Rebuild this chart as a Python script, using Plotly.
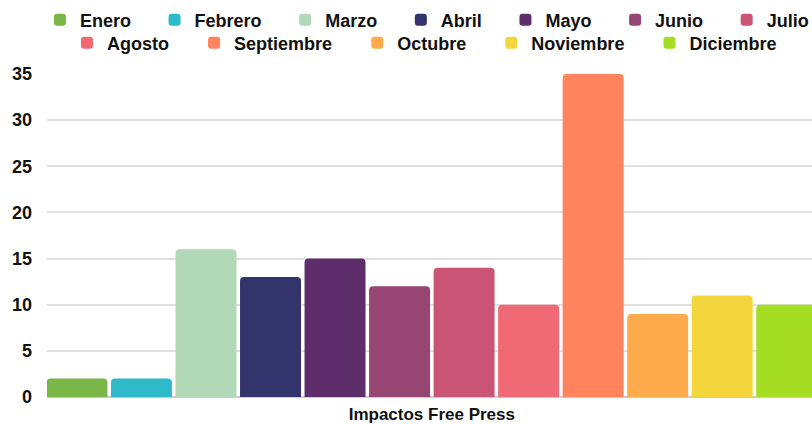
import plotly.graph_objects as go

category = ["Impactos Free Press"]
months = ["Enero", "Febrero", "Marzo", "Abril", "Mayo", "Junio",
          "Julio", "Agosto", "Septiembre", "Octubre", "Noviembre", "Diciembre"]
values = [2, 2, 16, 13, 15, 12, 14, 10, 35, 9, 11, 10]
colors = ["#7ab648", "#2fbaca", "#b1d8b7", "#32346b", "#5e2e6b", "#974673",
          "#c95476", "#ef6a74", "#ff835c", "#ffab4c", "#f2d63b", "#a4dd21"]
y_ticks = [0, 5, 10, 15, 20, 25, 30, 35]

PAD1 = "\u00a0" * 3 + "\u2009"
PAD2 = "\u00a0" * 3 + "\u2009" + "\u200a"
row1_last = "Julio"
row2_last = "Diciembre"

fig = go.Figure()
for i, (m, v, c) in enumerate(zip(months, values, colors)):
    pad = PAD1 if i < 7 else PAD2
    label = m if m in (row1_last, row2_last) else m + pad
    fig.add_trace(go.Bar(
        x=category, y=[v], name=label,
        marker=dict(color=c, line=dict(width=0)),
        legend="legend" if i < 7 else "legend2",
        hoverinfo="y+name",
    ))

font_family = "Liberation Sans, Arial, sans-serif"
fig.update_layout(
    width=812, height=424,
    margin=dict(l=47, r=0, t=74, b=27, autoexpand=False),
    paper_bgcolor="white", plot_bgcolor="white",
    barmode="group", bargap=0, bargroupgap=0.055,
    barcornerradius=4,
    font=dict(family=font_family, size=17, color="#111111", weight="bold"),
    legend=dict(orientation="h", x=-0.0092, xanchor="left", y=1.167, yanchor="middle",
                font=dict(size=18, weight="bold", color="#111111"),
                bgcolor="rgba(0,0,0,0)", traceorder="normal"),
    legend2=dict(orientation="h", x=0.0261, xanchor="left", y=1.096, yanchor="middle",
                 font=dict(size=18, weight="bold", color="#111111"),
                 bgcolor="rgba(0,0,0,0)", traceorder="normal"),
    xaxis=dict(type="category", range=[-0.497, 0.491], showgrid=False, automargin=False,
               tickfont=dict(size=17, weight="bold", color="#111111"),
               ticklabelstandoff=5,
               showline=False, zeroline=False, fixedrange=True),
    yaxis=dict(range=[0, 35], tickvals=y_ticks, showgrid=True, gridcolor="#e0e0e0",
               gridwidth=1.5, zeroline=True, zerolinecolor="#cccccc", zerolinewidth=1.5,
               tickfont=dict(size=18, weight="bold", color="#111111"), automargin=False,
               ticklabelstandoff=14, showline=False),
    showlegend=True,
)

fig.write_html("out.html", config={"displayModeBar": False},
               post_script="document.body.style.margin='0';")
